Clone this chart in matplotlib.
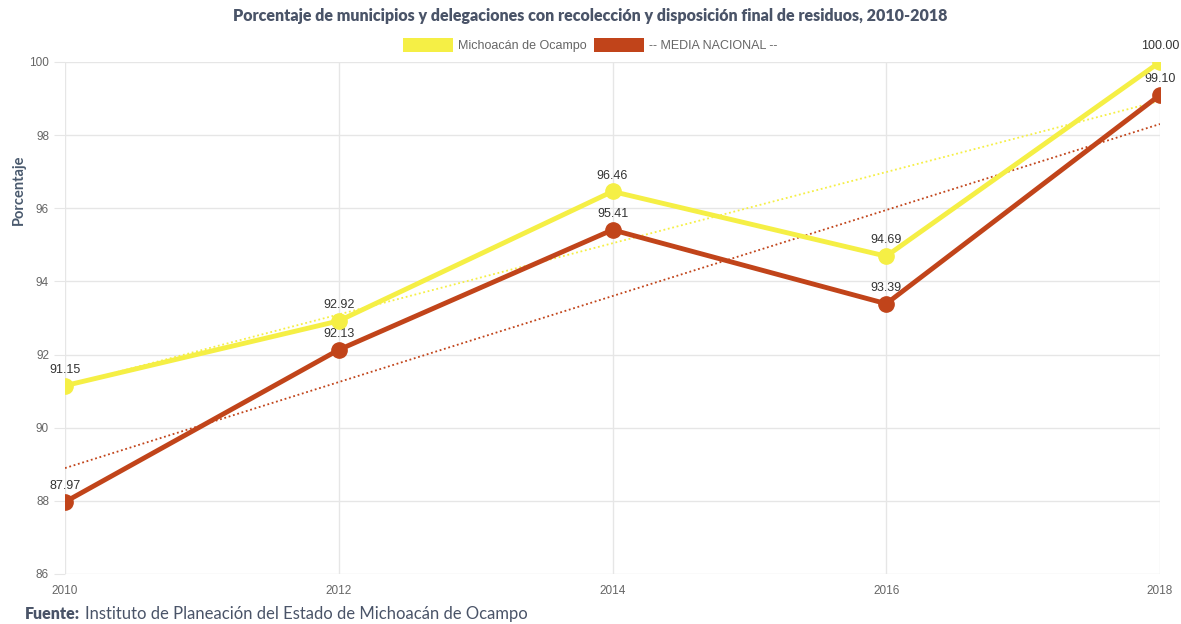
import matplotlib.pyplot as plt
import matplotlib.patches as mpatches
import numpy as np

years = [2010, 2012, 2014, 2016, 2018]
michoacan = [91.15, 92.92, 96.46, 94.69, 100.00]
nacional = [87.97, 92.13, 95.41, 93.39, 99.10]
y_ticks = [86, 88, 90, 92, 94, 96, 98, 100]

yellow = '#f5ef45'
red = '#c1441a'

plt.rcParams['font.family'] = ['Liberation Sans', 'DejaVu Sans']

fig = plt.figure(figsize=(11.81, 6.24), dpi=100)
ax = fig.add_axes([65 / 1181, 1 - 574 / 624, 1095 / 1181, 512 / 624])

x = np.arange(len(years))

# linear trend lines
for vals, col in [(michoacan, yellow), (nacional, red)]:
    m, b = np.polyfit(x, vals, 1)
    ax.plot(x, m * x + b, linestyle=(0, (1, 1.5)), color=col, linewidth=1.3, zorder=2)

ax.plot(x, michoacan, color=yellow, linewidth=3.5, marker='o', markersize=11, zorder=4)
ax.plot(x, nacional, color=red, linewidth=3.5, marker='o', markersize=11, zorder=5)

for xi, v in zip(x, michoacan):
    ax.annotate(f'{v:.2f}', (xi, v), xytext=(0, 7), textcoords='offset points',
                ha='center', va='bottom', fontsize=9, color='#333333', clip_on=False)
for xi, v in zip(x, nacional):
    ax.annotate(f'{v:.2f}', (xi, v), xytext=(0, 7), textcoords='offset points',
                ha='center', va='bottom', fontsize=9, color='#333333', clip_on=False)

ax.set_xlim(0, 4)
ax.set_ylim(86, 100)
ax.set_xticks(x)
ax.set_xticklabels([str(y) for y in years])
ax.set_yticks(y_ticks)
ax.grid(True, color='#e6e6e6', linewidth=1)
ax.set_axisbelow(True)
for s in ax.spines.values():
    s.set_visible(False)
ax.tick_params(axis='both', colors='#e6e6e6', labelcolor='#666666', labelsize=8.5, length=8)
ax.tick_params(axis='x', length=0, pad=8)

ax.set_ylabel('Porcentaje', fontsize=10.5, fontweight='bold', color='#4a5a6e',
              family=['Lato', 'DejaVu Sans'])
ax.yaxis.set_label_coords(-0.036, 0.75)

fig.text(0.5, 1 - 16 / 624, 'Porcentaje de municipios y delegaciones con recolección y disposición final de residuos, 2010-2018',
         ha='center', va='center', fontsize=11.5, fontweight='heavy', color='#4a5468', family=['Lato', 'DejaVu Sans'])

handles = [mpatches.Patch(facecolor=yellow, label='Michoacán de Ocampo'),
           mpatches.Patch(facecolor=red, label='-- MEDIA NACIONAL --')]
fig.legend(handles=handles, loc='center', bbox_to_anchor=(0.5, 1 - 45 / 624), ncol=2, frameon=False,
           fontsize=9, handlelength=4.0, handleheight=1.3, columnspacing=0.6, handletextpad=0.4,
           labelcolor='#666666')

fig.text(25 / 1181, 1 - 614 / 624, 'Fuente:', ha='left', va='center', fontsize=11.5,
         fontweight='heavy', color='#4a5468', family=['Lato', 'DejaVu Sans'])
fig.text(85 / 1181, 1 - 614 / 624, 'Instituto de Planeación del Estado de Michoacán de Ocampo',
         ha='left', va='center', fontsize=12, color='#4a5468', family=['Lato', 'DejaVu Sans'])

fig.savefig('out.png', dpi=100)
